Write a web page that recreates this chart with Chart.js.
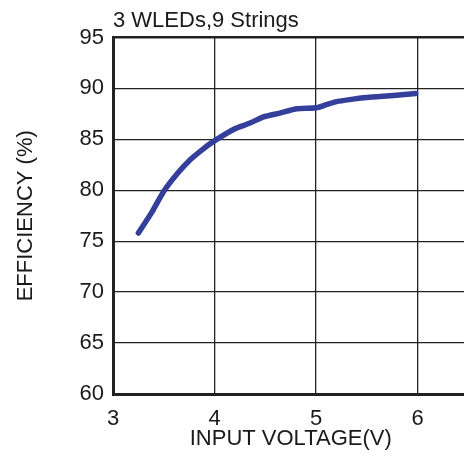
<!DOCTYPE html>
<html>
<head>
<meta charset="utf-8">
<script src="https://cdn.jsdelivr.net/npm/chart.js@4.4.1/dist/chart.umd.min.js"></script>
<style>
  html, body { margin: 0; padding: 0; background: #fff; overflow: hidden; }
  #wrap { width: 470px; height: 458px; }
</style>
</head>
<body>
<div id="wrap"><canvas id="effChart"></canvas></div>
<script>
// input voltage (V) and efficiency (%)
var voltage = [3.25, 3.38, 3.5, 3.63, 3.76, 3.88, 3.99, 4.19, 4.35, 4.48, 4.65, 4.81, 5.0, 5.1, 5.2, 5.33, 5.5, 5.76, 5.98];
var efficiency = [75.8, 77.8, 79.9, 81.6, 83.0, 84.0, 84.8, 86.0, 86.6, 87.2, 87.6, 88.0, 88.1, 88.4, 88.7, 88.9, 89.1, 89.3, 89.5];
var xTicks = [3, 4, 5, 6];
var yTicks = [60, 65, 70, 75, 80, 85, 90, 95];

var points = voltage.map(function (v, i) { return { x: v, y: efficiency[i] }; });
var txt = '#1a1a1a';
var fontFam = '"Liberation Sans", Arial, sans-serif';

var ctx = document.getElementById('effChart').getContext('2d');
var effChart = new Chart(ctx, {
  type: 'line',
  data: {
    datasets: [{
      data: points,
      borderColor: '#343f9b',
      borderWidth: 5.5,
      borderCapStyle: 'round',
      borderJoinStyle: 'round',
      pointRadius: 0,
      tension: 0.2,
      fill: false
    }]
  },
  options: {
    responsive: true,
    maintainAspectRatio: false,
    animation: false,
    layout: { padding: { left: 0, right: 1.5, top: 0, bottom: 0 } },
    plugins: {
      legend: { display: false },
      tooltip: { enabled: false },
      title: {
        display: true,
        text: '3 WLEDs,9 Strings',
        align: 'start',
        fullSize: false,
        color: txt,
        font: { family: fontFam, size: 22, weight: 'normal' },
        padding: { top: 7.8, bottom: 3.3 }
      }
    },
    scales: {
      x: {
        type: 'linear',
        min: 3,
        max: 6.5,
        afterFit: function (s) { s.height = 64; },
        afterBuildTicks: function (s) {
          s.ticks = xTicks.map(function (v) { return { value: v }; });
        },
        ticks: {
          color: txt,
          padding: 12,
          maxRotation: 0,
          font: { family: fontFam, size: 22 }
        },
        grid: { color: '#222', lineWidth: 1.3, drawTicks: false },
        border: { color: '#222', width: 3 },
        title: {
          display: true,
          text: 'INPUT VOLTAGE(V)',
          color: txt,
          font: { family: fontFam, size: 22 },
          padding: { top: 0, bottom: 6 }
        }
      },
      y: {
        min: 60,
        max: 95,
        afterFit: function (s) { s.width = 113; },
        afterBuildTicks: function (s) {
          s.ticks = yTicks.map(function (v) { return { value: v }; });
        },
        ticks: {
          color: txt,
          padding: 9,
          font: { family: fontFam, size: 22 }
        },
        grid: {
          color: '#222',
          drawTicks: false,
          lineWidth: function (c) { return c.tick && c.tick.value === 95 ? 2.5 : 1.3; }
        },
        border: { color: '#222', width: 3 },
        title: {
          display: true,
          text: 'EFFICIENCY (%)',
          color: txt,
          font: { family: fontFam, size: 22 },
          padding: { top: 13, bottom: 0 }
        }
      }
    }
  }
});
</script>
</body>
</html>
